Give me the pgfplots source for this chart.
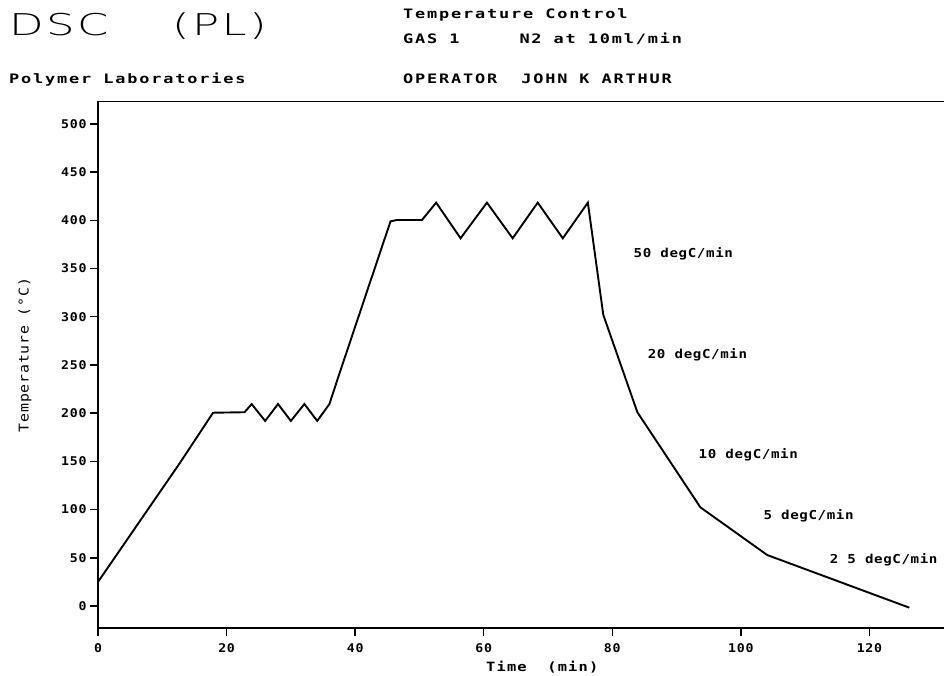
\documentclass[border=0pt]{standalone}
\usepackage{pgfplots}
\pgfplotsset{compat=1.18}
\usepackage{fontspec}
\newfontfamily\tickf{DejaVu Sans Mono Bold}[FakeStretch=1.1,LetterSpace=6]
\newfontfamily\annf{DejaVu Sans Mono Bold}[FakeStretch=1.15,LetterSpace=5]
\newfontfamily\hdrf{DejaVu Sans Mono Bold}[FakeStretch=1.3,LetterSpace=14]
\newfontfamily\ylabf{DejaVu Sans Mono}[FakeStretch=1.1,LetterSpace=6]
\newfontfamily\xlabf{DejaVu Sans Mono Bold}[FakeStretch=1.2,LetterSpace=9]
\newfontfamily\dscf{DejaVu Sans ExtraLight}[FakeStretch=1.5,LetterSpace=8]
\begin{document}
\begin{tikzpicture}[x=1pt,y=1pt]
\useasboundingbox (0,0) rectangle (944,-676);
% header texts
\node[anchor=base west,inner sep=0pt,font=\dscf\fontsize{30}{32}\selectfont] at (9,-36) {DSC};
\node[anchor=base west,inner sep=0pt,font=\dscf\fontsize{30}{32}\selectfont] at (172,-36) {(PL)};
\node[anchor=base west,inner sep=0pt,font=\hdrf\fontsize{13}{14}\selectfont] at (403,-19) {Temperature Control};
\node[anchor=base west,inner sep=0pt,font=\hdrf\fontsize{13}{14}\selectfont] at (403,-44) {GAS 1\ \ \ \ \ N2 at 10ml/min};
\node[anchor=base west,inner sep=0pt,font=\hdrf\fontsize{13}{14}\selectfont] at (9,-84) {Polymer Laboratories};
\node[anchor=base west,inner sep=0pt,font=\hdrf\fontsize{13}{14}\selectfont] at (403,-84) {OPERATOR\ \ JOHN K ARTHUR};
% axis labels
\node[rotate=90,anchor=center,inner sep=0pt,font=\ylabf\fontsize{13.5}{14}\selectfont] at (25,-355) {Temperature (°C)};
\node[anchor=base west,inner sep=0pt,font=\xlabf\fontsize{12.8}{14}\selectfont] at (486,-671) {Time\ \ (min)};
\begin{axis}[
  at={(98pt,-628pt)}, anchor=south west,
  scale only axis, width=846pt, height=526.5pt,
  xmin=0, xmax=131.6, ymin=-22.8, ymax=523.3,
  axis x line*=box, axis y line*=left,
  axis line style={line width=1.8pt},
  xtick={0,20,...,120}, ytick={0,50,...,500},
  xtick pos=left, ytick pos=left,
  tick align=outside, major tick length=8pt,
  every tick/.style={black, line width=1.4pt},
  tick label style={font=\tickf\fontsize{12}{12}\selectfont},
  xticklabel style={yshift=-4pt},
  /pgf/number format/assume math mode=true,
  clip=false,
]
\addplot[black, line width=1.9pt] coordinates {
(0,25) (12.7,148) (17.9,200.5) (22.8,201) (23.9,209.5) (26,192) (28,209.5) (30,192)
(32.1,209.5) (34.1,192) (36,209.5) (37.4,238) (45.5,399) (46.5,400.4) (50.4,400.4)
(52.6,418.4) (56.4,381.4) (60.5,418.4) (64.5,381.4) (68.4,418.4) (72.3,381.4) (76.2,418.4)
(78.6,302) (83.9,201) (93.7,102.4) (104.1,52.9) (126.2,-1.7)
};
\node[anchor=west,inner sep=0pt,font=\annf\fontsize{12.3}{14}\selectfont] at (axis cs:83.3,365) {50 degC/min};
\node[anchor=west,inner sep=0pt,font=\annf\fontsize{12.3}{14}\selectfont] at (axis cs:85.5,261) {20 degC/min};
\node[anchor=west,inner sep=0pt,font=\annf\fontsize{12.3}{14}\selectfont] at (axis cs:93.4,156.6) {10 degC/min};
\node[anchor=west,inner sep=0pt,font=\annf\fontsize{12.3}{14}\selectfont] at (axis cs:103.5,93.4) {5 degC/min};
\node[anchor=west,inner sep=0pt,font=\annf\fontsize{12.3}{14}\selectfont] at (axis cs:113.8,47.7) {2 5 degC/min};
\end{axis}
\end{tikzpicture}
\end{document}
